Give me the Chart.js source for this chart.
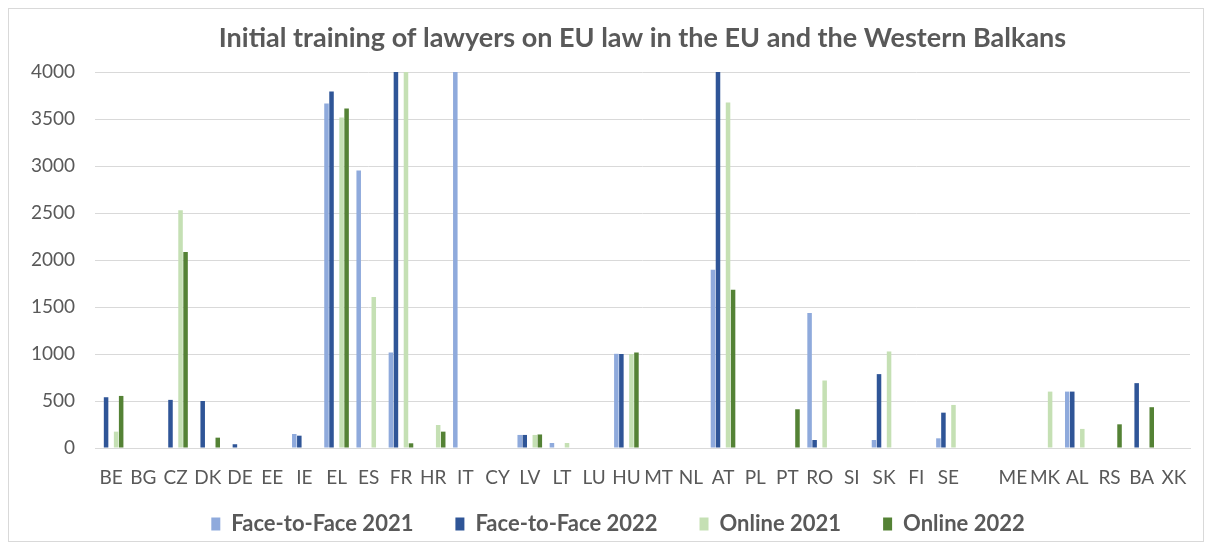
<!DOCTYPE html>
<html>
<head>
<meta charset="utf-8">
<script src="https://cdn.jsdelivr.net/npm/chart.js@4/dist/chart.umd.min.js"></script>
<style>
  html, body { margin: 0; padding: 0; background: #ffffff; }
  #wrap { position: relative; width: 1213px; height: 549px; }
  #frame { position: absolute; left: 8px; top: 8px; width: 1196px; height: 534px; border: 1px solid #D9D9D9; box-sizing: border-box; pointer-events: none; }
  canvas { position: absolute; left: 0; top: 0; }
</style>
</head>
<body>
<div id="wrap">
  <canvas id="c" width="1213" height="549"></canvas>
  <div id="frame"></div>
</div>
<script>
const categories = ["BE","BG","CZ","DK","DE","EE","IE","EL","ES","FR","HR","IT","CY","LV","LT","LU","HU","MT","NL","AT","PL","PT","RO","SI","SK","FI","SE","","ME","MK","AL","RS","BA","XK"];

const faceToFace2021 = [0,0,0,0,0,0,149,3664,2953,1016,0,4800,0,139,53,0,1002,0,0,1897,0,0,1436,0,85,0,103,0,0,0,600,0,0,0];
const faceToFace2022 = [540,0,512,500,40,0,131,3792,0,4400,0,0,0,139,0,0,1000,0,0,4100,0,0,85,0,786,0,376,0,0,0,600,0,690,0];
const online2021     = [174,0,2530,0,0,0,0,3515,1606,4300,245,0,0,139,53,0,1000,0,0,3675,0,0,718,0,1027,0,458,0,0,600,203,0,0,0];
const online2022     = [554,0,2086,110,0,0,0,3611,0,50,174,0,0,144,0,0,1016,0,0,1684,0,412,0,0,0,0,0,0,0,0,0,252,434,0];
const emptySeries    = categories.map(() => null);

const yTicks = [0,500,1000,1500,2000,2500,3000,3500,4000];

const textColor = "#595959";
const gridColor = "#D9D9D9";

const LEGEND_PAD = 42;
const LEGEND_FONT = 22;

const placeBlocks = {
  id: "placeBlocks",
  afterLayout(chart) {
    const lg = chart.legend;
    const h = lg.bottom - lg.top;
    lg.left += 23; lg.right += 23;
    const top = 524 - (LEGEND_PAD + LEGEND_FONT / 2);
    lg.top = top; lg.bottom = top + h;
    const tb = chart.titleBlock;
    const ca = chart.chartArea;
    const shift = (ca.left + ca.right) / 2 - (tb.left + tb.right) / 2;
    tb.left += shift; tb.right += shift;
  }
};

const ctx = document.getElementById("c").getContext("2d");
new Chart(ctx, {
  type: "bar",
  plugins: [placeBlocks],
  data: {
    labels: categories,
    datasets: [
      { label: "Face-to-Face 2021", data: faceToFace2021, backgroundColor: "#8FAADC" },
      { label: "Face-to-Face 2022", data: faceToFace2022, backgroundColor: "#2F5597" },
      { label: "", data: emptySeries, backgroundColor: "rgba(0,0,0,0)" },
      { label: "Online 2021", data: online2021, backgroundColor: "#C5E0B4" },
      { label: "Online 2022", data: online2022, backgroundColor: "#548235" }
    ]
  },
  options: {
    responsive: false,
    animation: false,
    datasets: { bar: { categoryPercentage: 0.78, barPercentage: 0.9 } },
    layout: { padding: { left: 0, right: 23, top: 0, bottom: -15 } },
    plugins: {
      title: {
        display: true,
        text: "Initial training of lawyers on EU law in the EU and the Western Balkans",
        color: textColor,
        font: { family: "Lato", size: 27, weight: "bold" },
        padding: { top: 21.8, bottom: 17.8 }
      },
      legend: {
        position: "bottom",
        labels: {
          filter: (item) => item.text !== "",
          color: textColor,
          font: { family: "Lato", size: LEGEND_FONT, weight: "bold" },
          boxWidth: 9,
          boxHeight: 13,
          padding: LEGEND_PAD
        }
      },
      tooltip: { enabled: false }
    },
    scales: {
      x: {
        afterFit: (scale) => { scale.height = 42; },
        grid: { display: false },
        border: { display: true, color: gridColor },
        ticks: {
          color: textColor,
          font: { family: "Lato", size: 19 },
          autoSkip: false,
          maxRotation: 0,
          minRotation: 0,
          padding: 10
        }
      },
      y: {
        min: 0,
        max: 4000,
        afterBuildTicks: (scale) => { scale.ticks = yTicks.map(v => ({ value: v })); },
        afterFit: (scale) => { scale.width = 95; },
        grid: { color: gridColor, drawTicks: false },
        border: { display: false },
        ticks: {
          color: textColor,
          font: { family: "Lato", size: 19 },
          padding: 20,
          callback: (v) => String(v)
        }
      }
    }
  }
});
</script>
</body>
</html>
